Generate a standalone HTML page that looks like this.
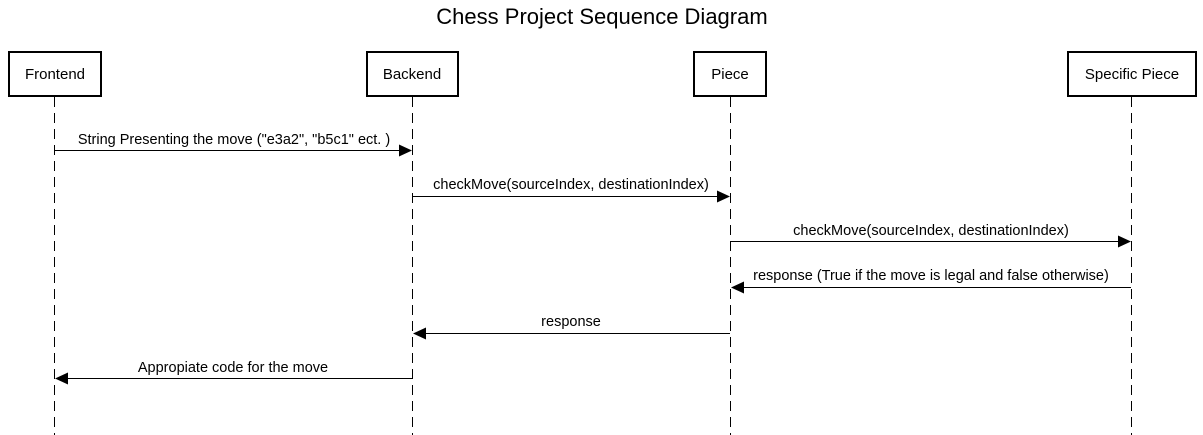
<!DOCTYPE html>
<html><head><meta charset="utf-8"><style>
html,body{margin:0;padding:0;background:#fff;}
svg{display:block;font-family:"Liberation Sans",Arial,sans-serif;}
</style></head><body>
<svg width="1203" height="435" viewBox="0 0 1203 435" xmlns="http://www.w3.org/2000/svg">
<text x="602" y="24" font-size="22" text-anchor="middle" fill="#000">Chess Project Sequence Diagram</text>
<g stroke="#000" stroke-width="1" stroke-dasharray="10,6">
<line x1="54.5" y1="97" x2="54.5" y2="435"/>
<line x1="412.5" y1="97" x2="412.5" y2="435"/>
<line x1="730.5" y1="97" x2="730.5" y2="435"/>
<line x1="1131.5" y1="97" x2="1131.5" y2="435"/>
</g>
<g fill="#fff" stroke="#000" stroke-width="2">
<rect x="9" y="52" width="92" height="44"/>
<rect x="367" y="52" width="91" height="44"/>
<rect x="694" y="52" width="72" height="44"/>
<rect x="1068" y="52" width="128" height="44"/>
</g>
<g font-size="15" text-anchor="middle" fill="#000">
<text x="55" y="79">Frontend</text>
<text x="412" y="79">Backend</text>
<text x="730" y="79">Piece</text>
<text x="1132" y="79">Specific Piece</text>
</g>
<g stroke="#000" stroke-width="1">
<line x1="54" y1="150.5" x2="400" y2="150.5"/>
<line x1="412" y1="196.5" x2="718" y2="196.5"/>
<line x1="730" y1="241.5" x2="1119" y2="241.5"/>
<line x1="743" y1="287.5" x2="1131" y2="287.5"/>
<line x1="425" y1="333.5" x2="730" y2="333.5"/>
<line x1="67" y1="378.5" x2="412" y2="378.5"/>
</g>
<g fill="#000">
<polygon points="412,150.5 399,144.5 399,156.5"/>
<polygon points="730,196.5 717,190.5 717,202.5"/>
<polygon points="1131,241.5 1118,235.5 1118,247.5"/>
<polygon points="731,287.5 744,281.5 744,293.5"/>
<polygon points="413,333.5 426,327.5 426,339.5"/>
<polygon points="55,378.5 68,372.5 68,384.5"/>
</g>
<g font-size="14.5" text-anchor="middle" fill="#000">
<text x="234" y="144">String Presenting the move ("e3a2", "b5c1" ect. )</text>
<text x="571" y="189">checkMove(sourceIndex, destinationIndex)</text>
<text x="931" y="235">checkMove(sourceIndex, destinationIndex)</text>
<text x="931" y="280">response (True if the move is legal and false otherwise)</text>
<text x="571" y="326">response</text>
<text x="233" y="372">Appropiate code for the move</text>
</g>
</svg>
</body></html>
